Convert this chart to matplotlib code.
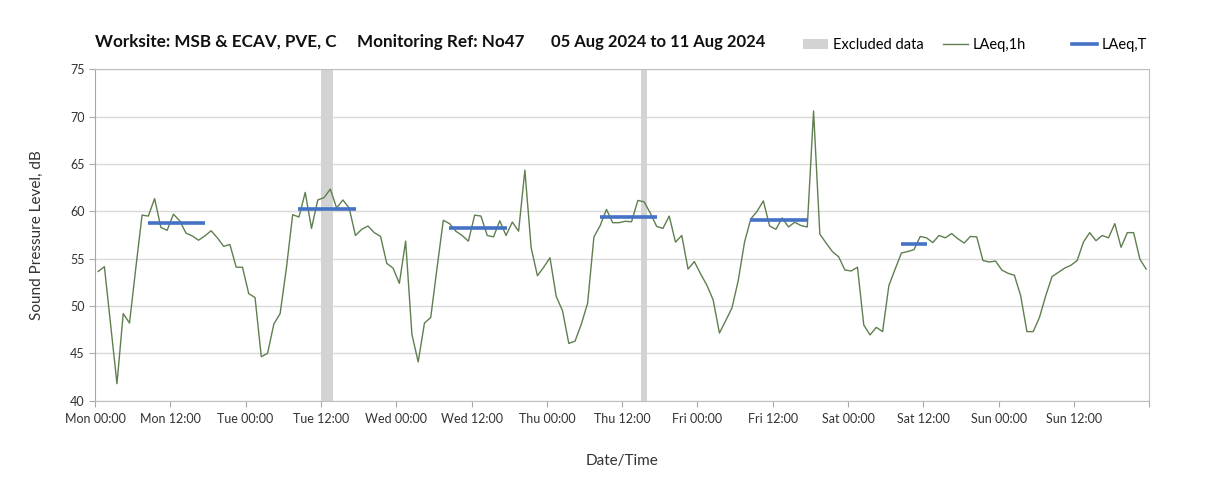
import matplotlib
matplotlib.use("Agg")
import matplotlib.pyplot as plt
from matplotlib.lines import Line2D
from matplotlib.patches import Patch
import numpy as np

plt.rcParams['font.family'] = ['Lato', 'DejaVu Sans']

# hourly LAeq,1h values, Mon 00:00 - Sun 23:00 (points plotted mid-hour)
laeq_1h = [
    53.65, 54.15, 48.0, 41.8, 49.2, 48.2, 54.0, 59.6, 59.5, 61.35, 58.3, 58.0,
    59.7, 59.0, 57.7, 57.4, 56.95, 57.4, 57.95, 57.2, 56.3, 56.5, 54.1, 54.1,
    51.3, 50.9, 44.65, 45.0, 48.1, 49.2, 54.0, 59.65, 59.4, 62.0, 58.2, 61.2,
    61.45, 62.35, 60.35, 61.2, 60.35, 57.45, 58.1, 58.45, 57.75, 57.35, 54.5, 54.0,
    52.4, 56.85, 47.0, 44.1, 48.2, 48.8, 54.0, 59.05, 58.7, 57.9, 57.45, 56.85,
    59.6, 59.5, 57.45, 57.3, 59.0, 57.45, 58.87, 57.9, 64.35, 56.15, 53.2, 54.1,
    55.1, 51.0, 49.5, 46.05, 46.3, 48.1, 50.3, 57.3, 58.5, 60.2, 58.8, 58.8,
    58.95, 58.9, 61.15, 61.0, 59.8, 58.4, 58.2, 59.5, 56.75, 57.45, 53.9, 54.7,
    53.4, 52.2, 50.65, 47.15, 48.45, 49.8, 52.7, 56.75, 59.2, 60.0, 61.1, 58.45,
    58.1, 59.3, 58.35, 58.85, 58.5, 58.35, 70.6, 57.6, 56.65, 55.75, 55.2, 53.8,
    53.7, 54.1, 48.0, 46.95, 47.75, 47.3, 52.15, 53.9, 55.6, 55.75, 55.95, 57.35,
    57.2, 56.7, 57.45, 57.2, 57.65, 57.1, 56.65, 57.35, 57.3, 54.8, 54.65, 54.75,
    53.8, 53.45, 53.25, 51.1, 47.3, 47.3, 48.8, 51.1, 53.1, 53.55, 54.0, 54.3,
    54.8, 56.75, 57.75, 56.9, 57.45, 57.2, 58.7, 56.2, 57.75, 57.75, 54.95, 53.9,
]
hours = np.arange(len(laeq_1h)) + 0.5

# LAeq,T daytime periods (hours from Mon 00:00)
laeq_t_start = [8.4, 32.4, 56.4, 80.4, 104.4, 128.4]
laeq_t_end = [17.6, 41.6, 65.6, 89.6, 113.6, 132.5]
laeq_t = [58.75, 60.2, 58.2, 59.35, 59.1, 56.5]

# excluded periods
excl_start = [36, 87]
excl_end = [38, 88]

tick_hours = list(range(0, 169, 12))
tick_labels = ["Mon 00:00", "Mon 12:00", "Tue 00:00", "Tue 12:00", "Wed 00:00",
               "Wed 12:00", "Thu 00:00", "Thu 12:00", "Fri 00:00", "Fri 12:00",
               "Sat 00:00", "Sat 12:00", "Sun 00:00", "Sun 12:00", ""]

green = "#5f7f4f"
blue = "#4472c4"
grey_band = "#d3d3d3"

fig = plt.figure(figsize=(12.07, 4.9), dpi=100)
ax = fig.add_axes([0.0787, 0.1822, 0.8735, 0.6764])

for s, e in zip(excl_start, excl_end):
    ax.axvspan(s, e, color=grey_band, lw=0, zorder=1)

ax.plot(hours, laeq_1h, color=green, lw=1.0, zorder=3)
ax.hlines(laeq_t, laeq_t_start, laeq_t_end, color=blue, lw=2.6, zorder=4)

ax.set_xlim(0, 168)
ax.set_ylim(40, 75)
ax.set_yticks(range(40, 76, 5))
ax.set_xticks(tick_hours)
ax.set_xticklabels(tick_labels, fontsize=9, color="#333333")
ax.tick_params(axis='y', labelsize=9, colors="#333333", length=4, color="#aaaaaa")
ax.tick_params(axis='x', length=4, color="#aaaaaa", pad=5)
ax.set_xticks(range(0, 169, 24), minor=True)
ax.tick_params(axis='x', which='minor', length=0)
ax.grid(axis='y', color="#d9d9d9", lw=1.0, zorder=0)
ax.grid(axis='x', which='minor', color="#d9d9d9", lw=1.0, zorder=0)
ax.set_axisbelow(True)
for side in ['top', 'right', 'bottom', 'left']:
    ax.spines[side].set_color("#bfbfbf")
ax.spines['left'].set_color("#a6a6a6")

ax.set_ylabel("Sound Pressure Level, dB", fontsize=11, color="#333333", labelpad=19)
ax.set_xlabel("Date/Time", fontsize=11, color="#333333", labelpad=21)

title_y = 1 - 42 / 490
fig.text(95 / 1207, title_y, "Worksite: MSB & ECAV, PVE, C", fontsize=12.3,
         fontweight='bold', va='center', color="#111111")
fig.text(357 / 1207, title_y, "Monitoring Ref: No47", fontsize=12.3,
         fontweight='bold', va='center', color="#111111")
fig.text(551 / 1207, title_y, "05 Aug 2024 to 11 Aug 2024", fontsize=12,
         fontweight='bold', va='center', color="#111111")

entries = [
    (Patch(facecolor=grey_band, edgecolor='none'), "Excluded data", 790),
    (Line2D([], [], color=green, lw=1.0), "LAeq,1h", 930),
    (Line2D([], [], color=blue, lw=2.6), "LAeq,T", 1059),
]
for handle, label, xpix in entries:
    fig.legend([handle], [label], frameon=False, loc='center left',
               bbox_to_anchor=(xpix / 1207, 1 - 45 / 490), fontsize=10.5,
               handlelength=1.7, handletextpad=0.35)

fig.savefig("out.png", dpi=100)
